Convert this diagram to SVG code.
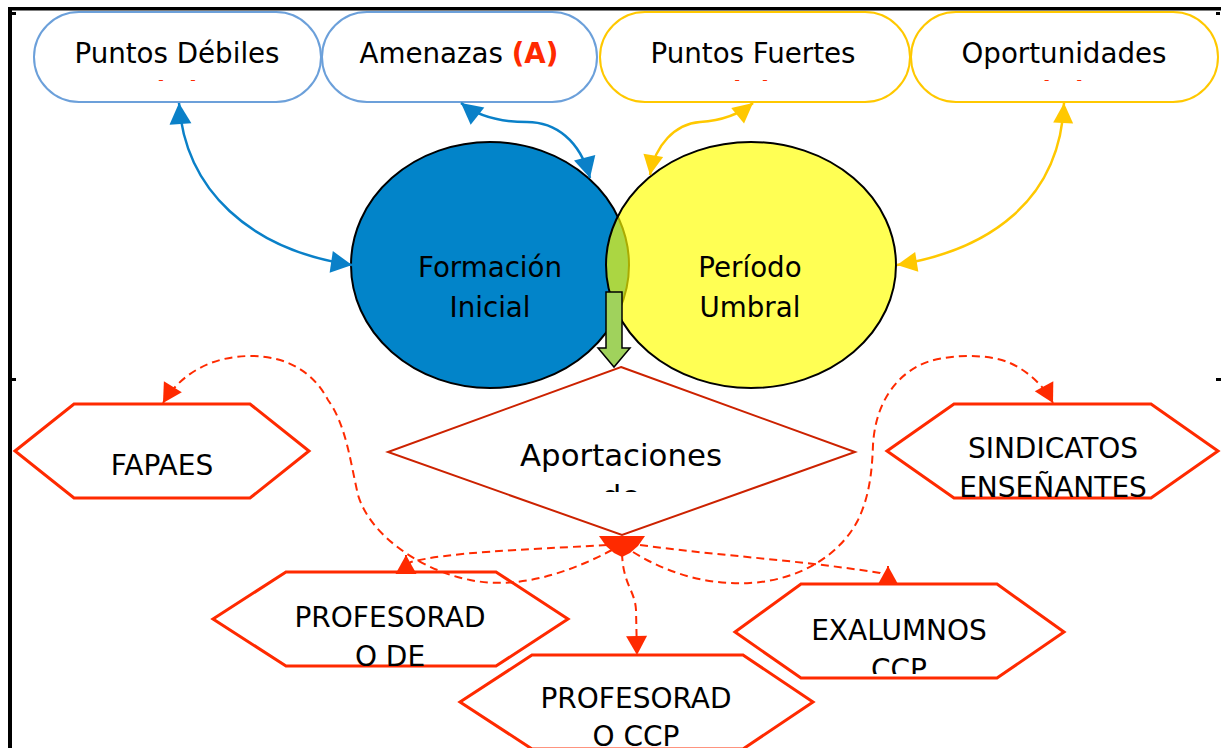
<svg xmlns="http://www.w3.org/2000/svg" width="1221" height="748" viewBox="0 0 1221 748">
<defs>
<style>
text{font-family:"DejaVu Sans","Liberation Sans",sans-serif;fill:#000}
.pillB{fill:#fff;stroke:#6CA0DA;stroke-width:2}
.pillY{fill:#fff;stroke:#FFC800;stroke-width:2}
.lbl{font-size:27.7px;text-anchor:middle}
.red{fill:#FF2A00;font-weight:bold}
.hex{fill:#fff;stroke:#FF2A00;stroke-width:3}
.hl{font-size:28px;text-anchor:middle}
.cB{fill:none;stroke:#0A80C8;stroke-width:2.5}
.cY{fill:none;stroke:#FFC800;stroke-width:2.5}
.cR{fill:none;stroke:#FF2A00;stroke-width:2;stroke-dasharray:8 5}
.frame{fill:#000}
</style>
<marker id="aB" viewBox="-22 -12 23 24" markerWidth="23" markerHeight="24" refX="0" refY="0" markerUnits="userSpaceOnUse" orient="auto-start-reverse" overflow="visible">
<path d="M0,0 L-21,-11 L-21,11 Z" fill="#0A80C8"/>
</marker>
<marker id="aY" viewBox="-22 -12 23 24" markerWidth="23" markerHeight="24" refX="0" refY="0" markerUnits="userSpaceOnUse" orient="auto-start-reverse" overflow="visible">
<path d="M0,0 L-20,-10 L-20,10 Z" fill="#FFC800"/>
</marker>
<marker id="aR" viewBox="-22 -12 23 24" markerWidth="23" markerHeight="24" refX="0" refY="0" markerUnits="userSpaceOnUse" orient="auto" overflow="visible">
<path d="M0,0 L-19,-10.5 L-19,10.5 Z" fill="#FF2A00"/>
</marker>
<clipPath id="cpTop" clipPathUnits="userSpaceOnUse"><rect x="0" y="0" width="1221" height="81"/></clipPath>
<clipPath id="cpDia" clipPathUnits="userSpaceOnUse"><rect x="0" y="0" width="1221" height="492"/></clipPath>
<clipPath id="cpSind" clipPathUnits="userSpaceOnUse"><rect x="0" y="0" width="1221" height="498"/></clipPath>
<clipPath id="cpDE" clipPathUnits="userSpaceOnUse"><rect x="0" y="0" width="1221" height="667"/></clipPath>
<clipPath id="cpEx" clipPathUnits="userSpaceOnUse"><rect x="0" y="0" width="1221" height="674"/></clipPath>
</defs>
<rect width="1221" height="748" fill="#fff"/>

<g id="frame">
<rect class="frame" x="8" y="7" width="1213" height="3.5"/>
<rect class="frame" x="8" y="7" width="4" height="741"/>
<rect class="frame" x="12" y="12" width="4" height="3"/>
<rect class="frame" x="1216" y="12" width="4" height="3"/>
<rect class="frame" x="8" y="378" width="8" height="3"/>
<rect class="frame" x="1216" y="378" width="5" height="3"/>
</g>

<g id="puntos-debiles">
<rect class="pillB" x="34" y="12" width="287" height="90" rx="45" ry="45"/>
<text class="lbl" x="177" y="63">Puntos Débiles</text>
<text class="lbl red" x="177" y="102" clip-path="url(#cpTop)">(D)</text>
</g>
<g id="amenazas">
<rect class="pillB" x="322" y="12" width="275" height="90" rx="45" ry="45"/>
<text class="lbl" x="459" y="63">Amenazas <tspan class="red">(A)</tspan></text>
</g>
<g id="puntos-fuertes">
<rect class="pillY" x="600" y="12" width="310" height="90" rx="45" ry="45"/>
<text class="lbl" x="753" y="63">Puntos Fuertes</text>
<text class="lbl red" x="751" y="102" clip-path="url(#cpTop)">(F)</text>
</g>
<g id="oportunidades">
<rect class="pillY" x="911" y="12" width="307" height="90" rx="45" ry="45"/>
<text class="lbl" x="1064" y="63">Oportunidades</text>
<text class="lbl red" x="1063" y="102" clip-path="url(#cpTop)">(O)</text>
</g>

<g id="formacion-inicial">
<ellipse cx="490" cy="265" rx="139" ry="123" fill="#0284C9" stroke="#000" stroke-width="2"/>
<text class="lbl" x="490" y="277">Formación</text>
<text class="lbl" x="490" y="317">Inicial</text>
</g>
<g id="periodo-umbral">
<ellipse cx="751" cy="265" rx="145" ry="123" fill="#FFFF00" fill-opacity="0.67" stroke="#000" stroke-width="2"/>
<text class="lbl" x="750" y="277">Período</text>
<text class="lbl" x="750" y="317">Umbral</text>
</g>
<g id="flecha-verde">
<polygon points="606,292 622,292 622,348 630,348 614,367 598,348 606,348" fill="#A0D25C" stroke="#000" stroke-width="1.5"/>
</g>

<g id="aportaciones">
<polygon points="621,367 855,452 622,535 388,452" fill="#fff" stroke="#CC2200" stroke-width="2"/>
<text x="621" y="466" font-size="30.8" text-anchor="middle">Aportaciones</text>
<text x="621" y="507" font-size="30.8" text-anchor="middle" clip-path="url(#cpDia)">de</text>
</g>

<g id="fapaes">
<polygon class="hex" points="15,451 74,404 250,404 309,451 250,498 74,498"/>
<text class="hl" x="162" y="475">FAPAES</text>
</g>
<g id="sindicatos">
<polygon class="hex" points="887,451 954,404 1151,404 1218,451 1151,498 954,498"/>
<text class="hl" x="1053" y="458">SINDICATOS</text>
<text class="hl" x="1053" y="497" clip-path="url(#cpSind)">ENSEÑANTES</text>
</g>
<g id="profesorado-de">
<polygon class="hex" points="213,619 286,572 496,572 568,619 496,666 286,666"/>
<text class="hl" x="390" y="627">PROFESORAD</text>
<text class="hl" x="390" y="666" clip-path="url(#cpDE)">O DE</text>
</g>
<g id="exalumnos">
<polygon class="hex" points="735,632 801,584 997,584 1064,632 997,678 801,678"/>
<text class="hl" x="899" y="640">EXALUMNOS</text>
<text class="hl" x="899" y="679" clip-path="url(#cpEx)">CCP</text>
</g>
<g id="profesorado-ccp">
<polygon class="hex" points="460,702 532,655 743,655 813,702 743,749 532,749"/>
<text class="hl" x="636" y="708">PROFESORAD</text>
<text class="hl" x="636" y="746">O CCP</text>
</g>

<g id="connectors">
<path class="cB" d="M179,103 C185,190 250,250 352,265" marker-start="url(#aB)" marker-end="url(#aB)"/>
<path class="cB" d="M461,103 C480,118 505,122 527,122 C555,122 580,140 590,178" marker-start="url(#aB)" marker-end="url(#aB)"/>
<path class="cY" d="M753,103 C735,118 715,121 700,122 C675,124 655,145 650,175" marker-start="url(#aY)" marker-end="url(#aY)"/>
<path class="cY" d="M1064,103 C1060,200 990,250 897,265" marker-start="url(#aY)" marker-end="url(#aY)"/>

<path class="cR" d="M612,550 C570,572 520,590 470,580 C420,570 370,535 358,495 C350,460 346,425 328,400 C315,375 290,356 251,356 C210,356 180,375 163,403" marker-end="url(#aR)"/>
<path class="cR" d="M607,545 C520,550 450,552 411,562 L406,566 L406,555" marker-end="url(#aR)"/>
<path class="cR" d="M622,553 C623,585 635,590 636,610 L637,655" marker-end="url(#aR)"/>
<path class="cR" d="M640,545 C720,556 800,560 880,573 L888,578 L888,566" marker-end="url(#aR)"/>
<path class="cR" d="M633,552 C670,575 710,585 750,583 C800,580 840,555 858,520 C870,495 872,470 873,445 C875,410 890,380 920,365 C940,355 985,352 1010,363 C1030,372 1045,388 1053,403" marker-end="url(#aR)"/>
<polygon points="599,536 645,536 638,546 630,553 622,557 614,553 606,546" fill="#FF2A00"/>
</g>
</svg>
